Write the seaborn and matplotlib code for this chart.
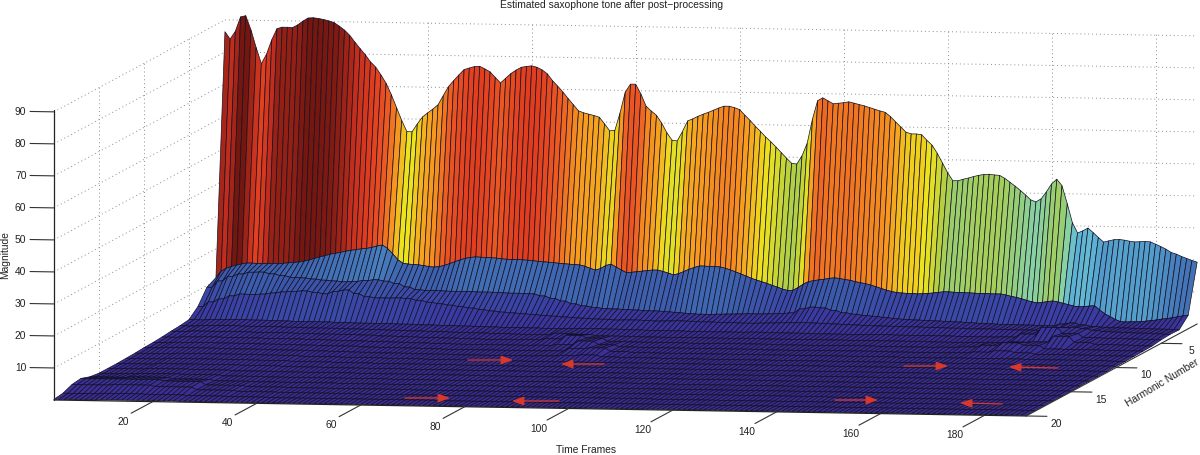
"""
Estimated saxophone tone after post-processing (surface of harmonic magnitudes)
"""

import numpy as np
import matplotlib
matplotlib.use('Agg')
import matplotlib.pyplot as plt
from mpl_toolkits.mplot3d import proj3d
import seaborn as sns

# Values, one row per harmonic, one value per time frame
harmonic_1 = [
    86.3, 84, 86.5, 91, 91.4, 87, 81.5, 76.5, 79.5, 84,
    87.5, 88, 88, 87.9, 88.8, 90, 91, 91.1, 90.9, 90.6,
    90.2, 89.7, 88.6, 87.4, 85.8, 83.7, 81.7, 79.8, 77.6, 76,
    73.6, 71, 67.5, 63.5, 59.5, 56, 56, 58.5, 60.7, 62,
    63.2, 64.6, 67.5, 70.3, 72.2, 74, 75.7, 76.2, 76.7, 76.8,
    76, 75.1, 73.4, 71.7, 73.2, 74.7, 75.8, 76.7, 77, 77.2,
    76.8, 76, 74.8, 72.7, 71, 69.2, 67.2, 65.3, 63.4, 62.8,
    62.4, 62, 61.5, 59.5, 57.3, 57.5, 63, 69.5, 72, 72,
    69, 65.2, 63.7, 62.4, 60, 57, 54.7, 54.5, 57.5, 60.8,
    61.5, 62.3, 63, 63.6, 64.3, 65, 65.6, 65.6, 65.2, 64.6,
    62.9, 61.3, 59.5, 57.9, 56.2, 54.7, 53.1, 51.4, 49.7, 48.1,
    47.9, 50.5, 54.5, 62, 67.8, 68.7, 67.8, 66.9, 67.1, 67.3,
    67.6, 67.2, 66.8, 66.4, 65.9, 65.4, 64.9, 64.5, 63.2, 61.6,
    60, 58.4, 57.9, 57.9, 57.7, 56, 54.5, 52, 49, 46,
    43.5, 43.5, 44, 44.4, 44.9, 45.3, 45.6, 45.7, 45.5, 45.4,
    44.5, 43.3, 42.1, 40.8, 39.4, 37.9, 37.3, 38.3, 40.5, 43,
    44.5, 42.5, 37, 31, 27.8, 28.5, 29.4, 28, 26.5, 25.1,
    25.5, 25.9, 26, 25.8, 25.5, 25.3, 25.4, 25.5, 25.4, 24.7,
    24, 23.2, 22.2, 21.7, 21, 20.4, 19.8, 19.3,
]
harmonic_2 = [
    11, 13, 14, 14.6, 15, 15.4, 15.7, 15.7, 15.6, 15.6,
    15.6, 15.7, 15.6, 15.8, 16, 16.1, 16.3, 16.6, 17, 17.5,
    18, 18.4, 18.9, 19.2, 19.5, 19.9, 20.2, 20.5, 20.7, 20.9,
    21.2, 21.7, 22, 21, 19.3, 17.5, 16.4, 16.2, 16.1, 16,
    15.8, 15.5, 15.4, 15.6, 16, 16.6, 17.2, 17.8, 18.3, 18.6,
    18.8, 18.7, 18.7, 18.6, 18.5, 18.3, 18.2, 18.1, 18.2, 18.1,
    18, 17.9, 17.7, 17.6, 17.5, 17.4, 17.2, 17.1, 17, 16.9,
    16.8, 16.4, 15.8, 15.3, 15.8, 16.8, 17.2, 16.3, 15.4, 14.6,
    14.8, 15, 15.2, 15.4, 15.6, 15.6, 15.2, 14.7, 14.2, 14.6,
    15.3, 16, 16.6, 17.1, 17.1, 17, 17, 16.9, 16.5, 16,
    15.4, 14.8, 14.2, 13.5, 13, 12.5, 12, 11.4, 10.9, 10.3,
    9.9, 10, 10.9, 12, 12.8, 13.1, 13.4, 13.6, 13.9, 14.1,
    13.9, 13.6, 13.4, 13, 12.7, 12.4, 12, 11.5, 11, 10.5,
    10.1, 9.8, 9.7, 9.6, 9.6, 9.5, 9.6, 9.7, 9.9, 10.1,
    10.3, 10.3, 10.2, 10.2, 10.1, 10.1, 10, 10, 10, 9.9,
    9.9, 9.9, 9.6, 9.2, 8.9, 8.5, 8, 7.6, 7.3, 7.5,
    7.8, 8, 7.7, 7.3, 6.9, 6.5, 6.3, 6.4, 6.6, 6.7,
    5.4, 4.2, 3.4, 2.5, 1.9, 1.8, 1.9, 1.9, 2, 2.2,
    2.4, 2.6, 2.9, 3.1, 3.4, 3.7, 4, 4.2,
]
# Read every second frame
harmonic_3 = [
    9.5, 11.5, 13, 13.8, 14.4, 14.5, 14, 13.5, 13, 12.9,
    12.6, 12.3, 12.1, 11.9, 12.1, 12.4, 12.7, 12.3, 11.6, 10.6,
    9.8, 9.6, 9.6, 9.5, 9.5, 9.5, 9.4, 9.4, 9.3, 9.2,
    9.2, 9.1, 8.5, 7.8, 7, 6.2, 5.6, 5.2, 4.9, 4.8,
    4.7, 4.6, 4.4, 4.4, 4.2, 4, 3.8, 3.6, 3.6, 3.7,
    3.8, 3.9, 4, 4, 4.1, 4.2, 4.5, 5.8, 6.4, 6.2,
    5.5, 4.8, 4.4, 4.1, 3.8, 3.5, 3.2, 3, 2.9, 2.8,
    2.7, 2.6, 2.5, 2.4, 2.2, 2.1, 2, 2, 1.9, 1.9,
    1.8, 1.8, 2.4, 2.8, 2.2, 1.8, 1.6, 1.5, 1.5, 1.4,
    1.4, 1.3, 1.3, 1.2,
]
harmonic_4 = [
    5, 6.5, 7.5, 8.5, 9.1, 9, 9.2, 9.6, 10, 10.2,
    10.4, 10, 9.6, 10.4, 10.9, 9.8, 8.9, 8.6, 8.6, 8.7,
    8.5, 8, 7.5, 7.1, 6.7, 6.3, 5.9, 5.5, 5.1, 4.8,
    4.6, 4.4, 4.2, 4, 3.8, 3.6, 3.4, 3.3, 3.1, 3.1,
    2.9, 3, 3, 2.9, 2.8, 2.9, 3, 2.9, 2.8, 2.8,
    2.7, 2.7, 2.6, 2.6, 2.7, 2.8, 2.9, 3, 3.1, 3,
    2.9, 2.8, 2.7, 2.6, 2.5, 2.4, 2.4, 2.3, 2.3, 2.3,
    2.2, 2.2, 2.1, 2.1, 2, 2, 2, 1.9, 1.9, 1.9,
    1.9, 1.8, 2, 2.8, 3, 2.6, 2.1, 1.8, 1.7, 1.6,
    1.5, 1.5, 1.4, 1.3,
]
# Read every fourth frame
harmonic_5 = [
    2.4, 2.6, 2.7, 2.6, 2.5, 2.4, 2.4, 2.3, 2.2, 2.2,
    2.1, 2.0, 1.9, 1.8, 1.7, 1.6, 1.6, 1.5, 1.6, 1.7,
    1.6, 1.5, 1.4, 1.4, 1.3, 1.3, 1.3, 1.4, 1.3, 1.3,
    1.2, 1.2, 1.2, 1.3, 1.2, 1.2, 1.2, 1.1, 1.1, 1.2,
    2.2, 4.4, 2.6, 1.4, 1.3, 1.2, 1.1,
]
harmonic_6 = [
    2.0, 2.2, 2.3, 2.2, 2.2, 2.1, 2.0, 2.0, 1.9, 1.8,
    1.7, 1.6, 1.5, 1.4, 1.3, 1.2, 1.1, 1.1, 1.6, 1.4,
    1.0, 1.0, 0.9, 0.9, 0.9, 0.9, 0.9, 1.0, 0.9, 0.9,
    0.9, 0.9, 0.9, 0.9, 0.9, 0.9, 0.8, 0.8, 0.9, 1.0,
    1.2, 1.4, 3.2, 1.4, 0.9, 0.8, 0.7,
]
harmonic_7 = [
    1.8, 2.0, 2.0, 2.0, 1.9, 1.9, 1.8, 1.7, 1.7, 1.6,
    1.4, 1.3, 1.2, 1.1, 1.0, 0.9, 0.9, 1.0, 1.4, 2.6,
    1.8, 0.9, 0.8, 0.8, 0.8, 0.7, 0.8, 0.8, 0.8, 0.7,
    0.7, 0.7, 0.8, 0.8, 0.7, 0.7, 0.7, 0.8, 1.0, 1.6,
    2.5, 1.8, 0.8, 0.7, 0.7, 0.6, 0.6,
]
harmonic_8 = [
    1.5, 1.7, 1.8, 1.7, 1.7, 1.6, 1.6, 1.5, 1.4, 1.3,
    1.2, 1.1, 1.0, 0.9, 0.8, 0.8, 0.8, 0.8, 0.9, 1.2,
    2.4, 1.4, 0.8, 0.7, 0.7, 0.7, 0.7, 0.7, 0.7, 0.6,
    0.6, 0.7, 0.7, 0.7, 0.7, 0.6, 0.6, 0.6, 0.7, 1.0,
    1.5, 1.0, 0.6, 0.6, 0.6, 0.5, 0.5,
]
harmonic_9 = [
    1.3, 1.5, 1.6, 1.5, 1.5, 1.4, 1.4, 1.3, 1.2, 1.2,
    1.0, 0.9, 0.9, 0.8, 0.7, 0.7, 0.7, 0.7, 0.7, 0.8,
    1.6, 1.9, 0.9, 0.7, 0.6, 0.6, 0.6, 0.6, 0.6, 0.6,
    0.6, 0.6, 0.6, 0.6, 0.6, 0.6, 0.5, 0.5, 0.6, 0.6,
    0.6, 0.6, 0.5, 0.5, 0.5, 0.5, 0.4,
]
harmonic_10 = [
    1.2, 1.4, 1.4, 1.4, 1.3, 1.3, 1.2, 1.2, 1.1, 1.0,
    0.9, 0.8, 0.8, 0.7, 0.7, 0.6, 0.6, 0.6, 0.6, 0.7,
    0.9, 1.2, 0.7, 0.6, 0.6, 0.5, 0.5, 0.5, 0.5, 0.5,
    0.5, 0.5, 0.5, 0.5, 0.5, 0.5, 0.5, 0.5, 0.5, 0.5,
    0.5, 0.5, 0.5, 0.4, 0.4, 0.4, 0.4,
]
# The rows closest to the floor, read every eighth frame
harmonic_11 = [1.0, 1.2, 1.2, 1.1, 0.9, 0.8, 0.7, 0.6, 0.6, 0.5, 0.5, 0.5, 0.5, 0.5, 0.5, 0.5, 0.5, 0.5, 0.5, 0.5, 0.5, 0.4, 0.4, 0.3]
harmonic_12 = [0.9, 1.1, 1.1, 1.0, 0.8, 0.7, 0.6, 0.6, 0.5, 0.5, 0.5, 0.5, 0.5, 0.4, 0.4, 0.4, 0.4, 0.4, 0.4, 0.4, 0.4, 0.4, 0.3, 0.3]
harmonic_13 = [0.8, 1.0, 1.0, 0.9, 0.7, 0.6, 0.6, 0.5, 0.5, 0.5, 0.4, 0.4, 0.4, 0.4, 0.4, 0.4, 0.4, 0.4, 0.4, 0.4, 0.3, 0.3, 0.3, 0.3]
harmonic_14 = [0.8, 1.0, 0.9, 0.7, 0.6, 0.6, 0.5, 0.5, 0.5, 0.4, 0.4, 0.4, 0.4, 0.4, 0.4, 0.4, 0.3, 0.3, 0.3, 0.3, 0.3, 0.3, 0.3, 0.3]
harmonic_15 = [0.8, 1.0, 0.9, 0.6, 0.5, 0.5, 0.5, 0.4, 0.4, 0.4, 0.4, 0.4, 0.4, 0.3, 0.3, 0.3, 0.3, 0.3, 0.3, 0.3, 0.3, 0.3, 0.3, 0.2]
harmonic_16 = [1.2, 1.4, 1.0, 0.6, 0.5, 0.5, 0.4, 0.4, 0.4, 0.4, 0.3, 0.3, 0.3, 0.3, 0.3, 0.3, 0.3, 0.3, 0.3, 0.3, 0.3, 0.3, 0.2, 0.2]
harmonic_17 = [2.2, 2.2, 1.8, 0.8, 0.5, 0.4, 0.4, 0.4, 0.3, 0.3, 0.3, 0.3, 0.3, 0.3, 0.3, 0.3, 0.3, 0.3, 0.2, 0.2, 0.2, 0.2, 0.2, 0.2]
harmonic_18 = [1.8, 2.0, 1.6, 0.8, 0.5, 0.4, 0.4, 0.3, 0.3, 0.3, 0.3, 0.3, 0.3, 0.3, 0.2, 0.2, 0.2, 0.2, 0.2, 0.2, 0.2, 0.2, 0.2, 0.2]
harmonic_19 = [0.6, 0.8, 0.7, 0.5, 0.4, 0.3, 0.3, 0.3, 0.3, 0.2, 0.2, 0.2, 0.2, 0.2, 0.2, 0.2, 0.2, 0.2, 0.2, 0.2, 0.2, 0.2, 0.2, 0.2]
harmonic_20 = [0.2, 0.3, 0.3, 0.2, 0.2, 0.2, 0.2, 0.2, 0.2, 0.2, 0.2, 0.2, 0.2, 0.2, 0.2, 0.2, 0.2, 0.2, 0.2, 0.2, 0.2, 0.2, 0.2, 0.2]

time_ticks = [20, 40, 60, 80, 100, 120, 140, 160, 180]
harmonic_ticks = [5, 10, 15, 20]
magnitude_ticks = [10, 20, 30, 40, 50, 60, 70, 80, 90]

# Colours of the print version of the jet map, low to high
surface_colors = ['#3A2C92', '#3A3CA4', '#3B5AAB', '#4478B8', '#5DB3D6', '#82D2B4', '#94CE78',
                  '#B5D03F', '#EDE31D', '#F79A1E', '#EE5F22', '#E23E1E', '#C22E1C', '#75170F']

N_FRAMES = 188
N_HARMONICS = 20
Z_TOP = 90.6
Z_COLOR_MAX = 91.0

sns.set_theme(style='white')
plt.rcParams['font.family'] = ['Liberation Sans', 'DejaVu Sans']

mid_rows = [harmonic_5, harmonic_6, harmonic_7, harmonic_8, harmonic_9, harmonic_10]
low_rows = [harmonic_11, harmonic_12, harmonic_13, harmonic_14, harmonic_15,
            harmonic_16, harmonic_17, harmonic_18, harmonic_19, harmonic_20]
magnitude = np.vstack(
    [harmonic_1, harmonic_2, np.repeat(harmonic_3, 2), np.repeat(harmonic_4, 2)]
    + [np.repeat(row, 4) for row in mid_rows]
    + [np.repeat(row, 8)[:N_FRAMES] for row in low_rows]
)

frames = np.arange(1, N_FRAMES + 1)
harmonics = np.arange(1, N_HARMONICS + 1)
T, H = np.meshgrid(frames, harmonics)

cmap = sns.blend_palette(surface_colors, as_cmap=True)

fig = plt.figure(figsize=(12, 4.56), dpi=100)
W = 1388.0
ax = fig.add_axes([-87.2 / 1200, -474.7 / 456, W / 1200, W / 456],
                  projection='3d', proj_type='ortho', computed_zorder=False)
ax.set_box_aspect((986.8, 992.5, 291.3))
ax.view_init(elev=5.4, azim=-80.08)
ax.set_xlim(1, N_FRAMES)
ax.set_ylim(N_HARMONICS, 1)
ax.set_zlim(0, Z_TOP)
ax.set_axis_off()
ax.patch.set_alpha(0)

# Dotted grid on the two back walls
grid_kw = dict(color='#8c8c8c', lw=0.7, ls=(0, (1, 3)), zorder=1)
for z in magnitude_ticks:
    ax.plot([1, 1], [N_HARMONICS, 1], [z, z], **grid_kw)
    ax.plot([1, N_FRAMES], [1, 1], [z, z], **grid_kw)
for t in time_ticks:
    ax.plot([t, t], [1, 1], [0, Z_TOP], **grid_kw)
for h in harmonic_ticks[:-1]:
    ax.plot([1, 1], [h, h], [0, Z_TOP], **grid_kw)

# Surface, each facet coloured from its first corner
surf = ax.plot_surface(T, H, magnitude, rstride=1, cstride=1,
                       facecolors=cmap(magnitude / Z_COLOR_MAX), shade=False, zorder=2)
surf.set_edgecolor('#120f24')
surf.set_linewidth(0.5)


def tick_label(x, y, z, s):
    """Place a tick label at a 3D position as plain 2D text"""
    px, py, _ = proj3d.proj_transform(x, y, z, ax.get_proj())
    ax.text2D(px, py, s, transform=ax.transData, fontsize=7.35, color='#222222',
              ha='center', va='center', zorder=4)


# Axis lines and ticks
axis_kw = dict(color='#222222', lw=0.9, zorder=3)
tick_kw = dict(color='#333333', lw=0.8, zorder=3)
ax.plot([1, 1], [N_HARMONICS, N_HARMONICS], [0, Z_TOP], **axis_kw)
ax.plot([1, N_FRAMES], [N_HARMONICS, N_HARMONICS], [0, 0], **axis_kw)
ax.plot([N_FRAMES, N_FRAMES], [N_HARMONICS, 1], [0, 0], **tick_kw)

for z in magnitude_ticks:
    ax.plot([1, -3.6], [N_HARMONICS, N_HARMONICS], [z, z], **tick_kw)
    tick_label(-5.4, N_HARMONICS, z, str(z))
for t in time_ticks:
    ax.plot([t, t], [N_HARMONICS, N_HARMONICS + 2.4], [0, 0], **tick_kw)
    tick_label(t, N_HARMONICS + 3.3, -1, str(t))
for h in harmonic_ticks:
    ax.plot([N_FRAMES, N_FRAMES + 4], [h, h], [0, 0], **tick_kw)
    tick_label(N_FRAMES + 5.8, h, -2, str(h))

# Red arrows marking the time-shift directions, figure pixels (start, end)
arrow_starts = [(468, 361), (604, 365), (405, 399), (559, 402),
                (904, 367), (1058, 369), (835, 401), (1002, 405)]
arrow_ends = [(513, 361), (561, 365), (450, 399), (512, 402),
              (948, 367), (1009, 368), (878, 401), (960, 404)]
for start, end in zip(arrow_starts, arrow_ends):
    ax.annotate('', xy=(end[0] / 1200, 1 - end[1] / 456), xytext=(start[0] / 1200, 1 - start[1] / 456),
                xycoords='figure fraction', textcoords='figure fraction', zorder=5,
                arrowprops=dict(arrowstyle='-|>,head_length=0.6,head_width=0.22', color='#D8392B',
                                lw=0.9, shrinkA=0, shrinkB=0))

text_kw = dict(fontsize=7.35, color='#222222', ha='center', va='center')
fig.text(612 / 1200, 1 - 5.5 / 456, 'Estimated saxophone tone after post\u2212processing', **text_kw)
fig.text(586 / 1200, 1 - 450 / 456, 'Time Frames', **text_kw)
fig.text(5 / 1200, 1 - 255 / 456, 'Magnitude', rotation=90, **text_kw)
fig.text(1162 / 1200, 1 - 383 / 456, 'Harmonic Number', rotation=31, **text_kw)

fig.savefig('out.png', dpi=100)
